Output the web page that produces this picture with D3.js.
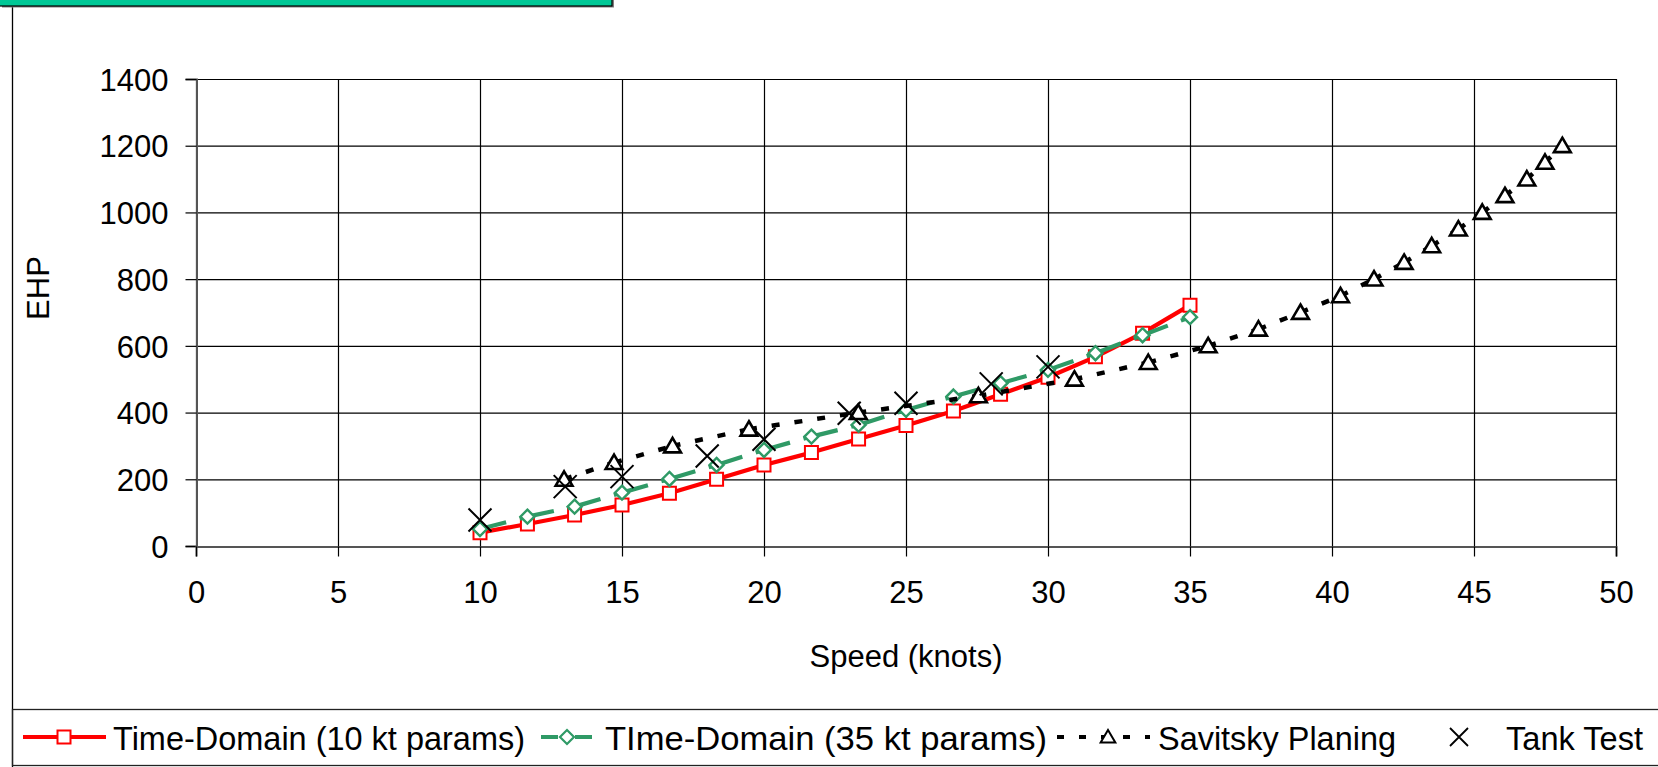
<!DOCTYPE html>
<html>
<head>
<meta charset="utf-8">
<script src="https://cdn.jsdelivr.net/npm/d3@7"></script>
<style>
  html, body { margin: 0; padding: 0; background: #fff; }
  svg { display: block; font-family: "Liberation Sans", Arial, sans-serif; }
</style>
</head>
<body>
<div id="chart-area"></div>
<script>
// data
const speedTD = [10, 11.67, 13.33, 15, 16.67, 18.33, 20, 21.67, 23.33, 25, 26.67, 28.33, 30, 31.67, 33.33, 35];
const ehpTD10 = [40, 66, 93, 123, 158, 200, 243, 280, 321, 361, 405, 455, 506, 567, 638, 722];
const ehpTD35 = [51, 88, 118, 160, 201, 243, 288, 328, 363, 408, 448, 488, 528, 578, 632, 686];
const speedSav = [12.96, 14.72, 16.78, 19.47, 23.32, 27.55, 30.93, 33.53, 35.64, 37.41, 38.89, 40.3, 41.48, 42.54, 43.51, 44.45, 45.29, 46.09, 46.86, 47.5, 48.11];
const ehpSav = [200, 250, 300, 350, 400, 450, 500, 550, 600, 650, 700, 750, 800, 850, 900, 950, 1000, 1050, 1100, 1150, 1200];
const speedTank = [10, 13, 15, 18, 20, 23, 25, 28, 30];
const ehpTank = [78, 178, 208, 270, 320, 398, 428, 486, 537];
const xTicks = [0, 5, 10, 15, 20, 25, 30, 35, 40, 45, 50];
const yTicks = [0, 200, 400, 600, 800, 1000, 1200, 1400];
const seriesNames = ["Time-Domain (10 kt params)", "TIme-Domain (35 kt params)", "Savitsky Planing", "Tank Test"];

const W = 1658, H = 767;
const svg = d3.select("#chart-area").append("svg")
    .attr("width", W)
    .attr("height", H);

const x = d3.scaleLinear().domain([0, 50]).range([196, 1616]);
const y = d3.scaleLinear().domain([0, 1400]).range([546, 79]);

// outer frame bits
svg.append("line").attr("x1", 12.5).attr("x2", 12.5).attr("y1", 6).attr("y2", H)
    .attr("stroke", "#000").attr("stroke-width", 1.3);
svg.append("rect").attr("x", 12.5).attr("y", 709.5).attr("width", W).attr("height", 56)
    .attr("fill", "none").attr("stroke", "#222").attr("stroke-width", 1.3);
// green box cut off at the top
svg.append("rect").attr("x", 2).attr("y", -2).attr("width", 612).attr("height", 9.5).attr("fill", "#808080");
svg.append("rect").attr("x", -1).attr("y", -4).attr("width", 613).attr("height", 10)
    .attr("fill", "#00c896").attr("stroke", "#000").attr("stroke-width", 1.2);

// grid
const grid = svg.append("g");
grid.selectAll(".gy").data(yTicks).enter().append("line")
    .attr("x1", x(0)).attr("x2", x(50))
    .attr("y1", d => y(d) + 0.5).attr("y2", d => y(d) + 0.5)
    .attr("stroke", "#000").attr("stroke-width", 1.2);
grid.selectAll(".gx").data(xTicks).enter().append("line")
    .attr("x1", d => x(d) + 0.5).attr("x2", d => x(d) + 0.5)
    .attr("y1", y(1400)).attr("y2", y(0))
    .attr("stroke", "#000").attr("stroke-width", 1.2);

// axes
const yAxis = svg.append("g").attr("transform", `translate(${x(0) + 0.5},0)`)
    .call(d3.axisLeft(y).tickValues(yTicks).tickFormat(d3.format("d")).tickSize(11).tickPadding(17));
const xAxis = svg.append("g").attr("transform", `translate(0,${y(0) + 0.5})`)
    .call(d3.axisBottom(x).tickValues(xTicks).tickFormat(d3.format("d")).tickSize(10).tickPadding(24));
[yAxis, xAxis].forEach(a => {
    a.select(".domain").attr("stroke", "#555").attr("stroke-width", 2);
    a.selectAll(".tick line").attr("stroke", "#000").attr("stroke-width", 1.2);
    a.selectAll("text").attr("font-size", 31).attr("fill", "#000")
        .attr("font-family", "'Liberation Sans', Arial, sans-serif");
});
yAxis.selectAll("text").attr("dy", "0.36em");
xAxis.selectAll("text").attr("dy", "0.72em");

svg.append("text").attr("x", 906).attr("y", 667).attr("text-anchor", "middle")
    .attr("font-size", 31).text("Speed (knots)");
svg.append("text").attr("transform", "translate(49,288) rotate(-90)")
    .attr("text-anchor", "middle").attr("font-size", 31).text("EHP");

// helpers
const pts = (xs, ys) => xs.map((v, i) => ({ x: v, y: ys[i] }));
const segs = p => p.slice(1).map((d, i) => [p[i], d]);

function drawSegments(g, p, color, dash, sw) {
    g.selectAll(null).data(segs(p)).enter().append("line")
        .attr("x1", d => x(d[0].x)).attr("y1", d => y(d[0].y))
        .attr("x2", d => x(d[1].x)).attr("y2", d => y(d[1].y))
        .attr("stroke", color).attr("stroke-width", sw || 4)
        .attr("stroke-dasharray", dash);
}

const sqPath = s => `M${-s},${-s}H${s}V${s}H${-s}Z`;
const diaPath = s => `M0,${-s}L${s},0L0,${s}L${-s},0Z`;
const triPath = s => `M0,${-s}L${s * 1.05},${s * 0.8}L${-s * 1.05},${s * 0.8}Z`;
const xPath = s => `M${-s},${-s}L${s},${s}M${-s},${s}L${s},${-s}`;

function drawMarkers(g, p, path, color, fill, sw) {
    g.selectAll(null).data(p).enter().append("path")
        .attr("transform", d => `translate(${x(d.x)},${y(d.y)})`)
        .attr("d", path)
        .attr("fill", fill).attr("stroke", color).attr("stroke-width", sw);
}

const red = "#ff0000", green = "#2f9a66", black = "#000";
const plot = svg.append("g");
const p1 = pts(speedTD, ehpTD10), p2 = pts(speedTD, ehpTD35);
const p3 = pts(speedSav, ehpSav), p4 = pts(speedTank, ehpTank);

drawSegments(plot, p1, red, null, 4.2);
drawMarkers(plot, p1, sqPath(6.5), red, "#fff", 2);
drawSegments(plot, p2, green, "27,14", 4.2);
drawMarkers(plot, p2, diaPath(7), green, "#fff", 2.4);
drawSegments(plot, p3, black, "8,15", 4.5);
drawMarkers(plot, p3, triPath(8), black, "#fff", 2.6);
drawMarkers(plot, p4, xPath(11.5), black, "none", 2);

// legend
const leg = svg.append("g");
const ly = 737;
leg.append("line").attr("x1", 23).attr("x2", 106).attr("y1", ly).attr("y2", ly)
    .attr("stroke", red).attr("stroke-width", 4);
leg.append("path").attr("transform", `translate(64,${ly})`).attr("d", sqPath(6.5))
    .attr("fill", "#fff").attr("stroke", red).attr("stroke-width", 2);

leg.append("line").attr("x1", 541).attr("x2", 592).attr("y1", ly).attr("y2", ly)
    .attr("stroke", green).attr("stroke-width", 4).attr("stroke-dasharray", "17,17");
leg.append("path").attr("transform", `translate(567,${ly})`).attr("d", diaPath(7))
    .attr("fill", "#fff").attr("stroke", green).attr("stroke-width", 2.2);

leg.append("line").attr("x1", 1057).attr("x2", 1150).attr("y1", ly).attr("y2", ly)
    .attr("stroke", black).attr("stroke-width", 4).attr("stroke-dasharray", "7,15");
leg.append("path").attr("transform", `translate(1108,${ly})`).attr("d", triPath(7))
    .attr("fill", "#fff").attr("stroke", black).attr("stroke-width", 2);

leg.append("path").attr("transform", `translate(1459,${ly})`).attr("d", xPath(9))
    .attr("fill", "none").attr("stroke", black).attr("stroke-width", 1.8);

const legText = [[113, 412], [605, 442], [1158, 238], [1506, 137]];
leg.selectAll("text").data(seriesNames).enter().append("text")
    .attr("x", (d, i) => legText[i][0]).attr("y", 750)
    .attr("font-size", 34)
    .attr("textLength", (d, i) => legText[i][1])
    .attr("lengthAdjust", "spacingAndGlyphs")
    .text(d => d);
</script>
</body>
</html>
